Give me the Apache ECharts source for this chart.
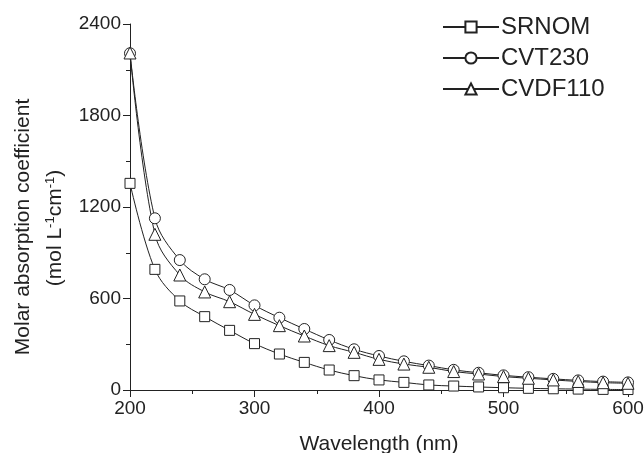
<!DOCTYPE html>
<html>
<head>
<meta charset="utf-8">
<script src="https://cdn.jsdelivr.net/npm/echarts@6/dist/echarts.min.js"></script>
<style>html,body{margin:0;padding:0;background:#fff}#c{width:644px;height:453px}</style>
</head>
<body>
<div id="c"></div>
<script>
const wavelengths = [200,220,240,260,280,300,320,340,360,380,400,420,440,460,480,500,520,540,560,580,600];
const srnom   = [1355,791,584,481,391,304,236,181,131,94,66,50,33,26,20,15,11,8,6,4,3];
const cvt230  = [2208,1126,852,726,656,555,474,400,328,267,223,188,160,132,113,96,84,73,63,55,50];
const cvdf110 = [2210,1021,754,643,579,496,422,354,291,247,201,170,149,121,105,88,77,66,56,48,44];
const seriesNames = ['SRNOM','CVT230','CVDF110'];
const xTicks = {min:200, max:600, interval:100};
const yTicks = {min:0, max:2400, interval:600};

const FONT = 'Liberation Sans, Arial, sans-serif';
const INK = '#222';
function pairs(v){ return wavelengths.map((w,i)=>[w,v[i]]); }
function mk(name, data, symbol, size){
  return {
    name, type:'line', data:pairs(data), smooth:0.35,
    symbol, symbolSize:size, showSymbol:true,
    lineStyle:{color:INK, width:1},
    itemStyle:{color:'#fff', borderColor:INK, borderWidth:1},
    emphasis:{disabled:true}, animation:false, z: 2
  };
}
const chart = echarts.init(document.getElementById('c'), null, {renderer:'canvas'});
chart.setOption({
  animation:false,
  backgroundColor:'#fff',
  grid:{left:130, right:16, top:24, bottom:63, containLabel:false, outerBoundsMode:'none'},
  legend:{
    orient:'vertical', left:437, top:10, itemWidth:56, itemHeight:14, itemGap:7,
    data:seriesNames,
    textStyle:{fontFamily:FONT, fontSize:24, color:INK, padding:[0,0,0,-3]},
    inactiveColor:INK
  },
  xAxis:{
    type:'value', min:xTicks.min, max:xTicks.max, interval:xTicks.interval,
    name:'Wavelength (nm)', nameLocation:'middle', nameGap:44,
    nameTextStyle:{fontFamily:FONT, fontSize:21, color:INK},
    axisLine:{show:true, onZero:false, lineStyle:{color:INK, width:1}},
    axisTick:{show:true, inside:false, length:7, lineStyle:{color:INK}},
    minorTick:{show:true, splitNumber:2, length:4, lineStyle:{color:INK}},
    axisLabel:{fontFamily:FONT, fontSize:19, color:INK, margin:9, formatter:v=>String(v)},
    splitLine:{show:false}
  },
  yAxis:{
    type:'value', min:yTicks.min, max:yTicks.max, interval:yTicks.interval,
    axisLine:{show:true, lineStyle:{color:INK, width:1}},
    axisTick:{show:true, inside:false, length:7, lineStyle:{color:INK}},
    minorTick:{show:true, splitNumber:2, length:4, lineStyle:{color:INK}},
    axisLabel:{fontFamily:FONT, fontSize:19, color:INK, margin:9, formatter:v=>String(v)},
    splitLine:{show:false}
  },
  graphic:[
    {type:'text', x:23, y:227, rotation:Math.PI/2,
     style:{text:'Molar absorption coefficient', font:'21px '+FONT, fill:INK, textAlign:'center', textVerticalAlign:'middle'}},
    {type:'text', x:55, y:228, rotation:Math.PI/2,
     style:{text:'(mol L{s|-1}cm{s|-1})', font:'21px '+FONT, fill:INK, textAlign:'center', textVerticalAlign:'middle',
       rich:{s:{fontSize:13, fontFamily:FONT, fill:INK, padding:[0,0,10,0]}}}}
  ],
  series:[
    mk('SRNOM', srnom, 'rect', 10),
    mk('CVT230', cvt230, 'circle', 11),
    mk('CVDF110', cvdf110, 'triangle', 12)
  ]
});
</script>
</body>
</html>
